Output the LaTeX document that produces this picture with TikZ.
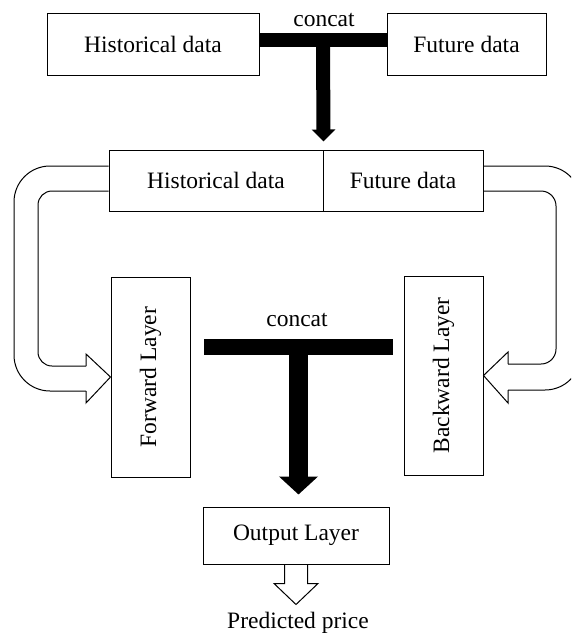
\documentclass[tikz,border=0pt]{standalone}
\usepackage{fontspec}
\setmainfont{Liberation Serif}
\usetikzlibrary{calc,arrows.meta}
\begin{document}
\begin{tikzpicture}[x=1pt,y=-1pt,
  lbl/.style={font=\fontsize{23.5}{28}\selectfont, inner sep=0pt},
  box/.style={draw, line width=1pt, inner sep=0pt, font=\fontsize{23.5}{28}\selectfont},
  hollow/.style={draw, line width=1pt, line join=miter, line cap=square},
  bar/.style={line width=#1, line cap=butt},
  bigarrow/.style={line width=#1, line cap=butt}
]
\clip (0,0) rectangle (571,637);

% input boxes
\node[box, minimum width=212pt, minimum height=62pt] (hist1) at (153,44) {Historical data};
\node[box, minimum width=159pt, minimum height=62pt] (fut1) at (466.5,44) {Future data};
\node[lbl] (cat1) at (324,20) {concat};

% concatenated sequence
\node[box, minimum width=214pt, minimum height=61pt] (hist2) at (216,180.5) {Historical data};
\node[box, minimum width=160pt, minimum height=61pt] (fut2) at (403,180.5) {Future data};

% recurrent layers
\node[box, minimum width=79pt, minimum height=200pt] (fwd) at (150.5,377)
  {\rotatebox{90}{Forward Layer}};
\node[box, minimum width=79pt, minimum height=199pt] (bwd) at (443.5,375.5)
  {\rotatebox{90}{Backward Layer}};
\node[lbl] (cat2) at (297,320) {concat};

% output
\node[box, minimum width=186pt, minimum height=57pt] (out) at (296,535.5) {Output Layer};
\node[lbl] (pred) at (298,623) {Predicted price};

% first concatenation
\coordinate (j1) at (323,40);
\draw[bar=14pt] ($(hist1.east)+(0,-4)$) -- ($(fut1.west)+(0,-4)$);
\draw[bigarrow=14pt, -{Triangle[width=23pt,length=12pt]}] (j1) -- ($(hist2.north east)+(0,-8)$);

% forward branch: outer edge, head, inner edge
\draw[hollow, rounded corners=36pt] ($(hist2.west)+(0,-14.5)$) -- (14,166) -- (14,391) -- (86,391);
\draw[hollow] (86,391) -- (86,403) -- (fwd.west) -- (86,354) -- (86,366);
\draw[hollow, rounded corners=14pt] (86,366) -- (38,366) -- (38,191) -- ($(hist2.west)+(0,10.5)$);

% backward branch: outer edge, head, inner edge
\draw[hollow, rounded corners=36pt] ($(fut2.east)+(0,-14.5)$) -- (581,166) -- (581,390) -- (508,390);
\draw[hollow] (508,390) -- (508,403) -- (bwd.east) -- (508,352) -- (508,364);
\draw[hollow, rounded corners=15pt] (508,364) -- (556,364) -- (556,191) -- ($(fut2.east)+(0,10.5)$);

% second concatenation
\coordinate (m1) at (204,347);
\coordinate (m2) at (393,347);
\coordinate (j2) at (298.5,347);
\draw[bar=16pt] (m1) -- (m2);
\draw[bigarrow=19pt, -{Triangle[width=38pt,length=18pt]}] (j2) -- ($(out.north)+(2.5,-12)$);

% prediction arrow
\begin{scope}[shift={(out.south)}]
\draw[hollow] (-11.5,0) -- (-11.5,19) -- (-22,19) -- (0,40) -- (22,19) -- (11.5,19) -- (11.5,0);
\end{scope}
\end{tikzpicture}
\end{document}
